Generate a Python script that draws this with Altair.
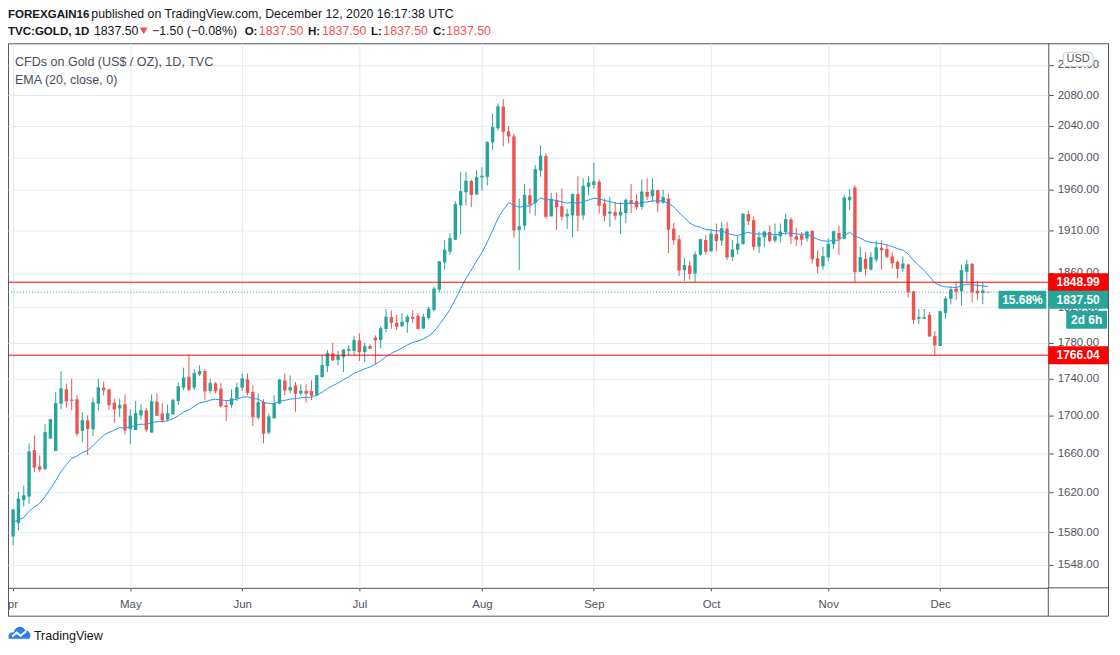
import altair as alt
import pandas as pd

# ---------------- data ----------------
opens = [1575.7, 1589.0, 1612.3, 1615.7, 1663.5, 1646.7, 1643.9, 1675.8, 1662.8, 1713.0,
         1728.5, 1717.3, 1717.7, 1683.9, 1695.1, 1685.6, 1713.0, 1730.3, 1728.5, 1714.1,
         1707.9, 1712.3, 1685.6, 1684.9, 1700.4, 1705.8, 1682.1, 1715.2, 1702.5, 1696.1,
         1701.5, 1715.9, 1730.3, 1742.2, 1730.3, 1744.8, 1748.5, 1726.7, 1735.0, 1729.2,
         1711.2, 1711.5, 1718.8, 1730.3, 1739.3, 1725.6, 1697.9, 1714.8, 1682.1, 1697.5,
         1713.0, 1738.2, 1727.4, 1732.8, 1724.2, 1726.7, 1726.7, 1722.0, 1741.9, 1754.0,
         1768.1, 1760.8, 1764.1, 1770.8, 1770.8, 1782.6, 1769.6, 1776.3, 1785.6, 1783.0,
         1795.5, 1808.9, 1802.2, 1798.5, 1802.9, 1808.9, 1810.4, 1795.9, 1807.8, 1817.0,
         1840.4, 1872.3, 1885.0, 1899.2, 1940.5, 1956.7, 1970.6, 1953.9, 1974.9, 1975.7,
         2019.0, 2037.0, 2065.0, 2033.0, 2026.7, 1910.8, 1916.1, 1953.0, 1943.6, 1983.3,
         2001.7, 1927.2, 1946.9, 1939.5, 1927.2, 1928.4, 1954.3, 1928.4, 1963.3, 1965.4,
         1969.6, 1942.8, 1930.5, 1932.5, 1928.4, 1931.3, 1946.9, 1946.1, 1938.7, 1957.1,
         1951.8, 1959.2, 1943.7, 1949.0, 1912.4, 1899.6, 1863.1, 1868.5, 1859.2, 1881.3,
         1898.8, 1885.2, 1905.8, 1898.0, 1912.4, 1878.6, 1887.1, 1894.1, 1929.9, 1922.6,
         1890.9, 1901.9, 1908.4, 1898.0, 1903.4, 1908.4, 1923.4, 1903.4, 1904.6, 1900.7,
         1909.6, 1877.0, 1867.7, 1878.1, 1893.8, 1907.3, 1900.4, 1946.9, 1962.5, 1861.2,
         1876.5, 1863.8, 1875.4, 1889.6, 1888.1, 1879.2, 1872.7, 1865.0, 1869.6, 1838.4,
         1807.0, 1807.0, 1811.5, 1787.4, 1776.3, 1813.3, 1829.8, 1841.6, 1838.4, 1861.2,
         1870.4, 1839.2, 1836.5, 1837.5]

highs = [1602.3, 1620.7, 1627.0, 1670.9, 1679.3, 1658.2, 1690.9, 1696.1, 1725.6, 1748.1,
         1734.6, 1740.0, 1722.0, 1703.6, 1700.4, 1719.5, 1740.0, 1736.8, 1729.2, 1718.4,
         1718.4, 1723.1, 1706.9, 1715.9, 1712.3, 1708.6, 1723.1, 1724.2, 1713.4, 1712.3,
         1718.4, 1735.7, 1752.2, 1767.0, 1750.4, 1754.8, 1750.4, 1740.0, 1736.4, 1735.7,
         1715.9, 1728.5, 1735.7, 1745.9, 1745.9, 1732.8, 1724.2, 1717.7, 1702.5, 1722.0,
         1740.0, 1745.9, 1743.7, 1736.4, 1733.9, 1733.9, 1738.2, 1743.7, 1765.9, 1771.9,
         1780.0, 1770.8, 1772.6, 1777.0, 1787.4, 1790.4, 1780.0, 1778.2, 1788.1, 1798.5,
         1818.1, 1816.3, 1811.5, 1813.3, 1811.5, 1816.3, 1813.3, 1812.6, 1820.8, 1844.3,
         1873.1, 1898.5, 1906.9, 1945.8, 1982.1, 1982.1, 1972.3, 1984.3, 1987.7, 2020.2,
         2056.3, 2069.2, 2075.0, 2040.0, 2030.0, 1948.9, 1966.7, 1961.3, 1990.4, 2015.2,
         2005.0, 1955.9, 1955.9, 1961.3, 1936.6, 1954.3, 1976.7, 1973.8, 1976.7, 1993.3,
         1972.5, 1948.9, 1951.0, 1944.8, 1944.8, 1948.9, 1966.7, 1954.3, 1972.5, 1973.8,
         1973.8, 1960.0, 1960.0, 1955.1, 1919.3, 1904.6, 1877.4, 1873.6, 1885.2, 1899.6,
         1904.6, 1911.2, 1918.5, 1920.5, 1920.5, 1898.8, 1903.4, 1931.5, 1934.0, 1926.7,
         1908.9, 1909.6, 1916.5, 1918.5, 1918.5, 1930.7, 1925.9, 1913.6, 1908.4, 1909.6,
         1910.4, 1886.3, 1890.8, 1900.4, 1910.0, 1916.2, 1953.0, 1960.4, 1965.3, 1890.8,
         1884.2, 1884.2, 1897.3, 1898.5, 1893.5, 1884.2, 1874.2, 1879.2, 1870.4, 1839.2,
         1818.1, 1818.1, 1814.5, 1793.0, 1815.9, 1832.6, 1844.3, 1849.4, 1869.6, 1875.4,
         1871.5, 1850.2, 1849.4, 1837.5]

lows = [1567.0, 1581.7, 1605.7, 1608.3, 1640.7, 1640.7, 1642.8, 1675.8, 1662.8, 1706.9,
        1708.7, 1706.1, 1678.2, 1672.3, 1658.6, 1678.6, 1706.1, 1722.0, 1706.1, 1692.6,
        1698.9, 1680.3, 1669.8, 1684.9, 1696.1, 1682.8, 1682.1, 1700.4, 1692.6, 1694.4,
        1701.5, 1711.5, 1727.8, 1726.7, 1727.8, 1743.0, 1716.9, 1724.2, 1724.2, 1708.6,
        1694.4, 1708.6, 1715.9, 1726.7, 1722.0, 1689.1, 1696.1, 1670.9, 1680.3, 1696.8,
        1712.3, 1722.0, 1724.2, 1703.9, 1722.0, 1714.1, 1716.9, 1721.2, 1741.1, 1747.4,
        1759.6, 1754.8, 1747.4, 1765.9, 1765.2, 1759.6, 1758.5, 1772.6, 1756.0, 1773.7,
        1791.8, 1795.5, 1794.1, 1797.8, 1791.1, 1802.2, 1794.8, 1795.5, 1805.9, 1815.2,
        1837.3, 1863.8, 1881.2, 1898.5, 1905.4, 1940.5, 1938.5, 1953.9, 1958.8, 1965.1,
        2009.7, 2034.1, 2014.0, 2018.0, 1901.5, 1863.0, 1910.8, 1930.8, 1928.0, 1975.8,
        1924.4, 1927.2, 1910.8, 1922.3, 1912.0, 1902.3, 1909.2, 1923.1, 1953.0, 1961.3,
        1930.5, 1921.5, 1914.6, 1923.1, 1906.2, 1919.0, 1931.3, 1935.4, 1935.4, 1946.9,
        1944.8, 1932.5, 1942.9, 1883.3, 1893.0, 1856.1, 1850.3, 1852.2, 1849.1, 1880.2,
        1881.3, 1885.2, 1885.2, 1891.7, 1874.8, 1873.6, 1881.3, 1893.0, 1916.5, 1886.3,
        1883.3, 1890.2, 1895.7, 1895.7, 1895.7, 1904.6, 1894.1, 1891.7, 1891.7, 1896.9,
        1870.9, 1859.2, 1863.8, 1873.5, 1888.1, 1881.2, 1899.6, 1934.6, 1849.4, 1861.2,
        1856.1, 1862.7, 1872.7, 1863.8, 1877.3, 1865.0, 1853.3, 1861.2, 1831.4, 1801.1,
        1801.1, 1807.0, 1786.3, 1765.2, 1776.3, 1807.0, 1823.5, 1828.6, 1822.0, 1849.4,
        1825.9, 1828.6, 1823.5, 1837.5]

closes = [1602.3, 1613.3, 1616.7, 1661.8, 1646.0, 1643.9, 1682.1, 1696.1, 1713.4, 1729.2,
          1715.9, 1716.5, 1681.4, 1695.1, 1686.3, 1714.1, 1730.3, 1727.8, 1711.9, 1707.2,
          1711.2, 1684.9, 1699.6, 1702.5, 1705.8, 1685.6, 1715.2, 1700.4, 1695.4, 1702.5,
          1716.6, 1731.4, 1741.1, 1728.5, 1745.9, 1748.1, 1726.7, 1735.0, 1726.7, 1710.5,
          1709.7, 1718.4, 1730.3, 1740.0, 1724.9, 1698.9, 1714.1, 1681.4, 1698.9, 1713.0,
          1738.6, 1727.8, 1730.3, 1724.2, 1726.7, 1724.2, 1722.0, 1743.7, 1754.8, 1768.1,
          1760.7, 1765.2, 1771.9, 1772.6, 1782.6, 1769.6, 1775.9, 1773.7, 1783.0, 1795.9,
          1808.9, 1802.9, 1798.5, 1803.3, 1808.9, 1807.4, 1795.9, 1808.9, 1818.1, 1841.2,
          1873.1, 1886.9, 1900.4, 1941.7, 1957.6, 1970.6, 1953.9, 1974.9, 1976.6, 2019.2,
          2038.3, 2065.0, 2033.0, 2027.0, 1910.8, 1914.6, 1953.0, 1942.0, 1985.0, 2001.7,
          1927.2, 1947.7, 1938.7, 1927.2, 1929.7, 1954.3, 1928.4, 1964.2, 1968.3, 1969.6,
          1940.7, 1928.4, 1932.5, 1928.4, 1932.5, 1946.9, 1943.6, 1938.7, 1957.1, 1951.8,
          1959.2, 1943.6, 1950.2, 1911.6, 1898.8, 1863.1, 1868.5, 1859.2, 1881.3, 1899.6,
          1885.2, 1905.8, 1898.0, 1912.4, 1878.6, 1887.1, 1894.1, 1929.9, 1921.8, 1890.9,
          1901.9, 1908.4, 1898.0, 1903.4, 1908.4, 1923.4, 1903.4, 1899.6, 1899.6, 1908.4,
          1876.3, 1867.8, 1879.2, 1893.8, 1908.8, 1900.4, 1949.8, 1950.6, 1861.2, 1878.1,
          1865.0, 1878.1, 1889.6, 1886.9, 1879.2, 1871.5, 1865.0, 1870.4, 1837.7, 1806.0,
          1808.5, 1808.5, 1787.4, 1777.4, 1815.2, 1829.8, 1840.4, 1838.4, 1862.7, 1869.6,
          1837.7, 1836.5, 1839.0, 1837.5]

month_starts = [0, 22, 43, 65, 88, 109, 131, 153, 174]   # bar index of first session
month_names = ["Apr", "May", "Jun", "Jul", "Aug", "Sep", "Oct", "Nov", "Dec"]
price_ticks = [1548, 1580, 1620, 1660, 1700, 1740, 1780, 1820, 1860,
               1910, 1960, 2000, 2040, 2080, 2120]
ema_length = 20
ema_seed = 1588.7
level_lines = [1848.99, 1766.04]
last_price = 1837.50
pct_text = "15.68%"
countdown_text = "2d 6h"

# ---------------- derived table ----------------
alpha = 2.0 / (ema_length + 1)
ema = []
prev = ema_seed
for c in closes:
    prev = prev + alpha * (c - prev)
    ema.append(round(prev, 2))

n = len(closes)
df = pd.DataFrame({
    "i": list(range(n)),
    "open": opens, "high": highs, "low": lows, "close": closes, "ema": ema,
    "dir": ["up" if c > o else "down" for o, c in zip(opens, closes)],
})

FONT = "Liberation Sans"
W, H = 1045, 547
GRID = "#e1ecf2"
FRAME = "#50535e"
UP, DOWN = "#26a69a", "#ef5350"

yscale = alt.Scale(type="log", domain=[1525.6, 2148.9], nice=False, zero=False)
xscale = alt.Scale(domain=[-0.02, 193.36], nice=False, zero=False)

# first month label is drawn separately (it is cut by the left edge in the reference)
label_expr = "".join(f"datum.value == {m} ? '{nm}' : "
                     for m, nm in zip(month_starts[1:], month_names[1:])) + "''"

x_axis = alt.Axis(values=month_starts, labelExpr=label_expr, title=None, domain=False,
                  grid=True, gridColor=GRID, tickColor=FRAME, tickSize=3, zindex=0,
                  labelColor=FRAME, labelFont=FONT, labelFontSize=11.5, labelPadding=8,
                  labelFlush=False, labelOverlap=False, labelAlign="center")
y_axis = alt.Axis(orient="right", values=price_ticks, format=".2f", title=None, domain=False,
                  grid=True, gridColor=GRID, tickColor=FRAME, tickSize=5, zindex=0,
                  labelColor=FRAME, labelFont=FONT, labelFontSize=11.5, labelPadding=4,
                  labelFlush=False, labelOverlap=False, labelBaseline="middle")


def X(field):
    return alt.X(field, scale=xscale, axis=x_axis)


def Y(field):
    return alt.Y(field, scale=yscale, axis=y_axis)


color_enc = alt.Color("dir:N", scale=alt.Scale(domain=["up", "down"], range=[UP, DOWN]), legend=None)

base = alt.Chart(df)
wicks = base.mark_rule(strokeWidth=1).encode(x=X("i:Q"), y=Y("low:Q"), y2="high:Q", color=color_enc)
bodies = base.mark_bar(size=3.4).encode(x=X("i:Q"), y=Y("open:Q"), y2="close:Q", color=color_enc)
dashes = base.mark_tick(thickness=1, size=3.4, orient="horizontal").encode(
    x=X("i:Q"), y=Y("close:Q"), color=color_enc)
ema_line = base.mark_line(color="#2196f3", strokeWidth=1).encode(x=X("i:Q"), y=Y("ema:Q"))

lv = pd.DataFrame({"p": level_lines})
lp = pd.DataFrame({"p": [last_price]})
one = pd.DataFrame({"k": [0]})
first_month = pd.DataFrame({"i": [month_starts[0]], "m": [month_names[0]]})

apr_label = alt.Chart(first_month).mark_text(
    font=FONT, fontSize=11.5, color=FRAME, align="center", baseline="top", dx=-4).encode(
    x=X("i:Q"), y=alt.value(H + 11), text="m:N")

level_rules = alt.Chart(lv).mark_rule(color="#ff0000", strokeWidth=1).encode(y=Y("p:Q"))
last_rule = alt.Chart(lp).mark_rule(color=UP, strokeWidth=1, strokeDash=[1, 2]).encode(y=Y("p:Q"))

level_boxes = alt.Chart(lv).mark_rect(color="#ff0000", yOffset=-9, y2Offset=9).encode(
    y=Y("p:Q"), y2="p:Q", x=alt.value(W), x2=alt.value(W + 60))
level_text = alt.Chart(lv).mark_text(color="white", fontWeight="bold", font=FONT, fontSize=12,
                                     align="center", baseline="middle").encode(
    y=Y("p:Q"), x=alt.value(W + 30), text=alt.Text("p:Q", format=".2f"))

sh = 7.7  # label pushed down below the red one
last_box = alt.Chart(lp).mark_rect(color=UP, yOffset=sh - 9, y2Offset=sh + 9).encode(
    y=Y("p:Q"), y2="p:Q", x=alt.value(W), x2=alt.value(W + 60))
last_text = alt.Chart(lp).mark_text(color="white", fontWeight="bold", font=FONT, fontSize=12,
                                    align="center", baseline="middle", yOffset=sh).encode(
    y=Y("p:Q"), x=alt.value(W + 30), text=alt.Text("p:Q", format=".2f"))
pct_box = alt.Chart(lp).mark_rect(color=UP, yOffset=sh - 9, y2Offset=sh + 9).encode(
    y=Y("p:Q"), y2="p:Q", x=alt.value(W - 50), x2=alt.value(W - 2))
pct_label = alt.Chart(lp).mark_text(color="white", fontWeight="bold", font=FONT, fontSize=12,
                                    align="center", baseline="middle", yOffset=sh,
                                    text=pct_text).encode(y=Y("p:Q"), x=alt.value(W - 26))
cd_box = alt.Chart(lp).mark_rect(color=UP, yOffset=sh + 11, y2Offset=sh + 29).encode(
    y=Y("p:Q"), y2="p:Q", x=alt.value(W + 18), x2=alt.value(W + 59))
cd_label = alt.Chart(lp).mark_text(color="white", fontWeight="bold", font=FONT, fontSize=12,
                                   align="center", baseline="middle", yOffset=sh + 20,
                                   text=countdown_text).encode(y=Y("p:Q"), x=alt.value(W + 38.5))

# USD badge
usd_box = alt.Chart(one).mark_rect(fill="white", stroke="#c9ccd4", strokeWidth=1, cornerRadius=4).encode(
    x=alt.value(W + 15), x2=alt.value(W + 45), y=alt.value(9), y2=alt.value(23))
usd_text = alt.Chart(one).mark_text(text="USD", font=FONT, fontSize=11, color=FRAME,
                                    align="center", baseline="middle").encode(
    x=alt.value(W + 30), y=alt.value(16))


# frame lines around price / time axis
def hline(x1, x2, y):
    return alt.Chart(one).mark_rule(color=FRAME, strokeWidth=1).encode(
        x=alt.value(x1), x2=alt.value(x2), y=alt.value(y))


def vline(x, y1, y2):
    return alt.Chart(one).mark_rule(color=FRAME, strokeWidth=1).encode(
        x=alt.value(x), y=alt.value(y1), y2=alt.value(y2))


frame = [hline(W, W + 60.5, 0.5), hline(W, W + 60.5, H), hline(0, W + 60.5, H + 28.5),
         vline(W + 60.5, 0, H + 28.5), vline(W, H, H + 28.5), vline(0.5, H, H + 28.5)]


# header & legend texts
def txt(s, x, y, bold=False, color="#131722", size=12.4):
    return alt.Chart(one).mark_text(text=s, font=FONT, fontSize=size, color=color,
                                    fontWeight="bold" if bold else "normal",
                                    align="left", baseline="alphabetic").encode(
        x=alt.value(x), y=alt.value(y))


BS = 11.6
texts = [
    txt("FOREXGAIN16", 0, -25, bold=True, size=BS),
    txt("published on TradingView.com, December 12, 2020 16:17:38 UTC", 83.7, -25),
    txt("TVC:GOLD, 1D", 0, -8, bold=True, size=BS),
    txt("1837.50", 86.3, -8),
    txt("\u22121.50 (\u22120.08%)", 144.7, -8),
    txt("O:", 237.7, -8, bold=True, size=BS), txt("1837.50", 252, -8, color=DOWN),
    txt("H:", 301.3, -8, bold=True, size=BS), txt("1837.50", 315.3, -8, color=DOWN),
    txt("L:", 364.7, -8, bold=True, size=BS), txt("1837.50", 377, -8, color=DOWN),
    txt("C:", 427, -8, bold=True, size=BS), txt("1837.50", 440.3, -8, color=DOWN),
    txt("CFDs on Gold (US$ / OZ), 1D, TVC", 7, 23, color="#4a4e59", size=12.6),
    txt("EMA (20, close, 0)", 7, 40.7, color="#4a4e59", size=12.6),
    txt("TradingView", 26, 599, color="#131722", size=12.6),
]
tri = alt.Chart(one).mark_point(shape="triangle-down", filled=True, color=DOWN, size=60, opacity=1).encode(
    x=alt.value(136.3), y=alt.value(-12.5))

cloud = alt.Chart(one).mark_point(
    shape="M -0.95 0.55 C -1.1 0.15 -0.8 -0.1 -0.5 -0.02 C -0.4 -0.6 0.35 -0.7 0.5 -0.18 C 0.9 -0.22 1.1 0.2 0.9 0.55 Z",
    filled=True, color="#2e7fe8", size=500, opacity=1).encode(x=alt.value(11.5), y=alt.value(592))
zig = alt.Chart(one).mark_point(
    shape="M -0.65 0.35 L -0.25 0.0 L 0.1 0.28 L 0.6 -0.12",
    filled=False, stroke="white", strokeWidth=2, size=500, opacity=1).encode(x=alt.value(11.5), y=alt.value(592))

layers = [wicks, bodies, dashes, ema_line, level_rules, last_rule,
          pct_box, pct_label, usd_box, usd_text,
          level_boxes, level_text, last_box, last_text, cd_box, cd_label,
          tri, cloud, zig, apr_label] + frame + texts

chart = alt.layer(*layers).properties(
    width=W, height=H,
    autosize=alt.AutoSizeParams(type="none"),
    padding={"left": 0, "top": 34, "right": 64, "bottom": 62},
    background="white",
).configure_view(stroke=FRAME, strokeWidth=1)

chart.save("out.html", embed_options={"renderer": "svg", "actions": False})
